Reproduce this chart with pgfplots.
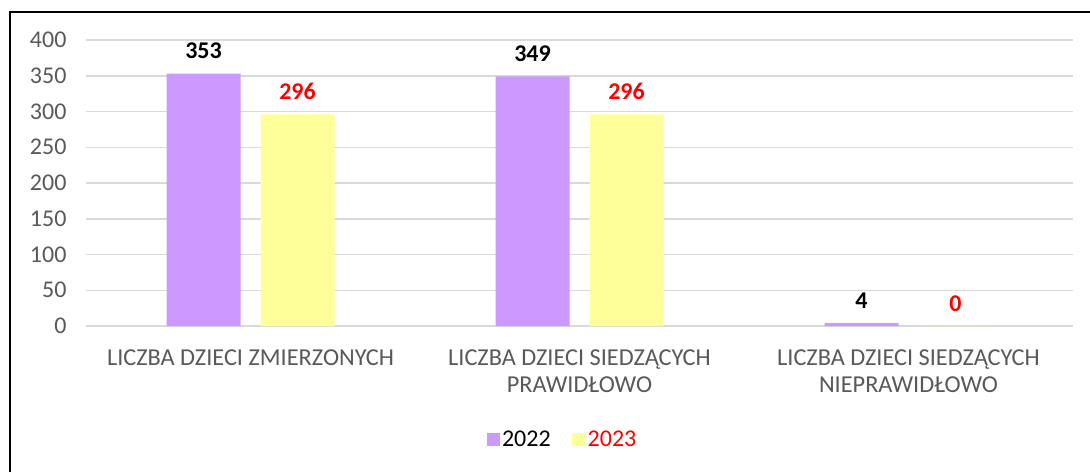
\documentclass[border=0pt]{standalone}
\usepackage{pgfplots}
\pgfplotsset{compat=1.18}
\usepackage{fontspec}
\setmainfont{Carlito}
\definecolor{barA}{HTML}{CC99FF}
\definecolor{barB}{HTML}{FFFF99}
\definecolor{tickgray}{HTML}{595959}
\definecolor{gridgray}{HTML}{D9D9D9}
\begin{document}
\begin{tikzpicture}[x=1pt,y=1pt]
\useasboundingbox (0,0) rectangle (1090,472);
\fill[white] (0,0) rectangle (1090,472);
\draw[black, line width=1.5pt] (10,0) -- (10,460) -- (1090,460);
\begin{axis}[
  at={(86pt,146pt)}, anchor=south west,
  scale only axis, width=987pt, height=286pt,
  ybar=20pt, bar width=74pt,
  xmin=-0.5, xmax=2.5, ymin=0, ymax=400,
  ytick={0,50,...,400},
  xtick={0,1,2},
  xticklabels={{LICZBA DZIECI ZMIERZONYCH},{LICZBA DZIECI SIEDZĄCYCH\\PRAWIDŁOWO},{LICZBA DZIECI SIEDZĄCYCH\\NIEPRAWIDŁOWO}},
  axis line style={draw=none},
  major tick length=0pt,
  ymajorgrids, grid style={gridgray, line width=1.5pt},
  /pgf/number format/assume math mode=true,
  yticklabel style={font=\fontsize{24}{28}\selectfont, text=tickgray, anchor=east, xshift=-16pt},
  xticklabel style={font=\fontsize{24.3}{27.5}\selectfont, text=tickgray, align=center, anchor=north, yshift=-20pt},
  nodes near coords,
  every node near coord/.append style={font=\bfseries\fontsize{24}{28}\selectfont, anchor=south, yshift=11pt},
  legend style={at={(0.483,-0.398)}, anchor=center, draw=none, legend columns=2,
    font=\fontsize{24}{28}\selectfont, nodes={inner sep=2.5pt},
    /tikz/every even column/.append style={column sep=19pt}},
]
\addplot[fill=barA, draw=none, every node near coord/.append style={text=black},
  legend image code/.code={\fill[barA] (0pt,-6.5pt) rectangle (13pt,6.5pt);}]
  coordinates {(0,353) (1,349) (2,4)};
\addplot[fill=barB, draw=none, every node near coord/.append style={text=red},
  legend image code/.code={\fill[barB] (0pt,-6.5pt) rectangle (13pt,6.5pt);}]
  coordinates {(0,296) (1,296) (2,0)};
\legend{2022, \textcolor{red}{2023}}
\end{axis}
\end{tikzpicture}
\end{document}
